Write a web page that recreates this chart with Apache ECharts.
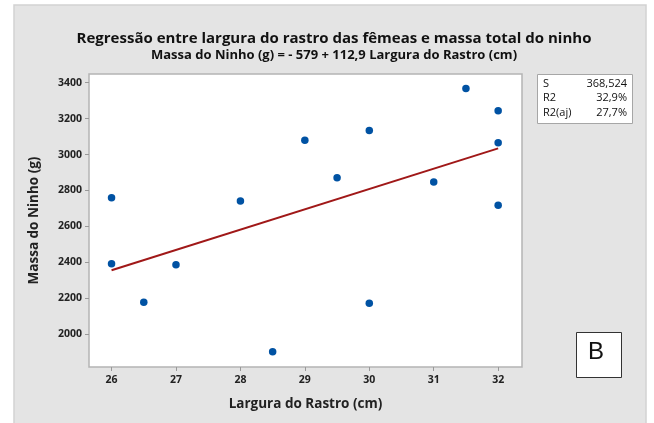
<!DOCTYPE html>
<html><head><meta charset="utf-8">
<script src="https://cdn.jsdelivr.net/npm/echarts@6/dist/echarts.min.js"></script>
<style>html,body{margin:0;padding:0;background:#fff}#c{width:654px;height:423px}</style>
</head><body><div id="c"></div>
<script>
const largura = [26, 26, 26.5, 27, 28, 28.5, 29, 29.5, 30, 30, 31, 31.5, 32, 32, 32];
const massa = [2760, 2393, 2178, 2387, 2742, 1903, 3079, 2871, 3133, 2172, 2847, 3367, 3244, 3066, 2718];
const fitX = [26, 32];
const fitY = [2356, 3034];
const xTicks = [26, 27, 28, 29, 30, 31, 32];
const yTicks = [2000, 2200, 2400, 2600, 2800, 3000, 3200, 3400];
const statsLabels = ['S', 'R2', 'R2(aj)'];
const statsValues = ['368,524', '32,9%', '27,7%'];

const FONT = '"Open Sans","Noto Sans",sans-serif';
const chart = echarts.init(document.getElementById('c'), null, {renderer: 'canvas'});

const statsTexts = [];
statsLabels.forEach((l, i) => {
  statsTexts.push({type: 'text', left: 543, top: 78 + i * 14.5, style: {text: l, font: '500 11px ' + FONT, fill: '#111'}});
  statsTexts.push({type: 'text', right: 654 - 627, top: 78 + i * 14.5, style: {text: statsValues[i], font: '500 11px ' + FONT, fill: '#111', align: 'right'}});
});

chart.setOption({
  backgroundColor: '#fff',
  animation: false,
  graphic: [
    {type: 'rect', z: -10, shape: {x: 14, y: 5, width: 632, height: 430}, style: {fill: '#e4e4e4', stroke: '#d2d2d2', lineWidth: 1.5}},
    {type: 'rect', z: 10, shape: {x: 537.5, y: 74.5, width: 95, height: 49}, style: {fill: '#fff', stroke: '#a6a6a6', lineWidth: 1}},
    {type: 'rect', z: 10, shape: {x: 576.5, y: 332.5, width: 45, height: 45}, style: {fill: '#fff', stroke: '#333', lineWidth: 1}},
    {type: 'text', z: 11, left: 588, top: 340, style: {text: 'B', font: '24px "Liberation Sans",Arial,sans-serif', fill: '#111'}},
    ...statsTexts.map(t => Object.assign(t, {z: 11}))
  ],
  title: {
    text: 'Regressão entre largura do rastro das fêmeas e massa total do ninho',
    subtext: 'Massa do Ninho (g) = - 579 + 112,9 Largura do Rastro (cm)',
    left: 329, top: 26, textAlign: 'center', itemGap: 3,
    textStyle: {fontFamily: FONT, fontSize: 15, fontWeight: 'bold', color: '#111'},
    subtextStyle: {fontFamily: FONT, fontSize: 13, fontWeight: 'bold', color: '#111'}
  },
  grid: {left: 89, top: 74, width: 433, height: 293, show: true, backgroundColor: '#fff', borderColor: '#b4b4b4', borderWidth: 1.5, containLabel: false},
  xAxis: {
    type: 'value', min: 25.65, max: 32.37,
    name: 'Largura do Rastro (cm)', nameLocation: 'middle', nameGap: 30,
    nameTextStyle: {fontFamily: FONT, fontSize: 13.5, fontWeight: 'bold', color: '#222'},
    axisLine: {show: false},
    axisTick: {show: true, length: 4, lineStyle: {color: '#999'}, customValues: xTicks},
    axisLabel: {fontFamily: FONT, fontSize: 10.5, fontWeight: 'bold', color: '#222', margin: 8, customValues: xTicks},
    splitLine: {show: false}
  },
  yAxis: {
    type: 'value', min: 1818, max: 3448,
    name: 'Massa do Ninho (g)', nameLocation: 'middle', nameGap: 48,
    nameTextStyle: {fontFamily: FONT, fontSize: 13.5, fontWeight: 'bold', color: '#222'},
    axisLine: {show: false},
    axisTick: {show: true, length: 4, lineStyle: {color: '#999'}, customValues: yTicks},
    axisLabel: {fontFamily: FONT, fontSize: 10.5, fontWeight: 'bold', color: '#222', margin: 7, customValues: yTicks, formatter: v => String(v)},
    splitLine: {show: false}
  },
  series: [
    {type: 'line', data: fitX.map((x, i) => [x, fitY[i]]), symbol: 'none', lineStyle: {color: '#a01818', width: 2}, z: 2},
    {type: 'scatter', data: largura.map((x, i) => [x, massa[i]]), symbol: 'circle', symbolSize: 7.5, itemStyle: {color: '#0052a3', opacity: 1}, z: 3}
  ]
});
</script></body></html>
